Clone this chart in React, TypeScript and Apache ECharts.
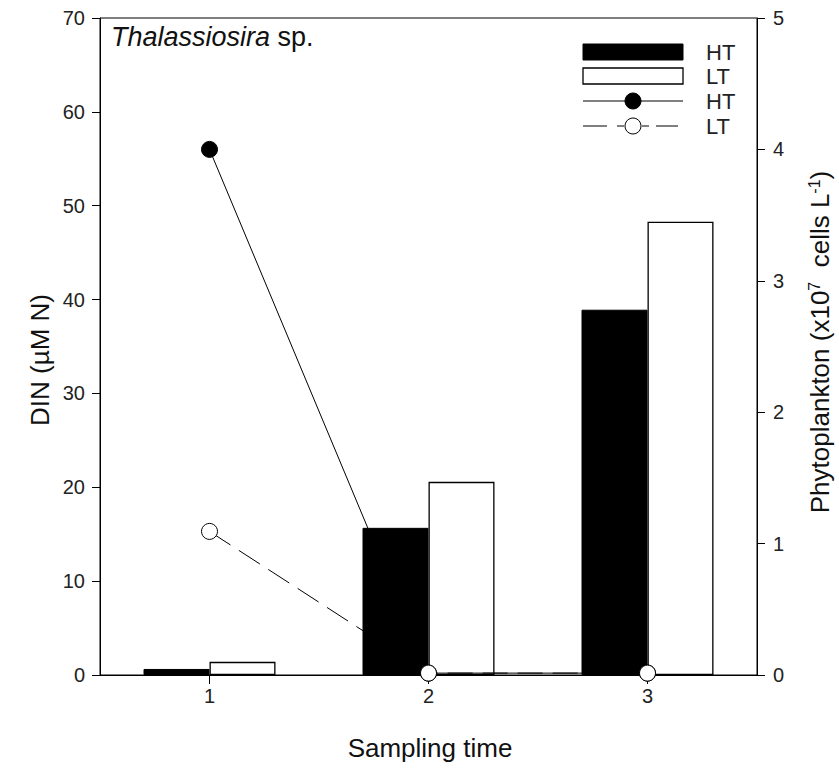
import React, { useEffect, useRef } from "react";
import * as echarts from "echarts";

const categories = ["1", "2", "3"];
// Phytoplankton (x10^7 cells L^-1), right axis
const barHT = [0.046, 1.12, 2.78];
const barLT = [0.1, 1.47, 3.45];
// DIN (µM N), left axis
const lineHT = [56, 0.2, 0.2];
const lineLT = [15.3, 0.2, 0.2];

const FONT = "Liberation Sans, Arial, sans-serif";

export default function App() {
  const ref = useRef<HTMLDivElement>(null);
  useEffect(() => {
    if (!ref.current) return;
    const chart = echarts.init(ref.current, undefined, { renderer: "svg" });
    const axisCommon = {
      axisLine: { show: true, lineStyle: { color: "#000", width: 1 } },
      axisTick: { show: true, inside: false, length: 8, lineStyle: { color: "#000" } },
      splitLine: { show: false },
    };
    const legendText = (t: string, y: number) => ({
      type: "text",
      x: 706,
      y,
      style: { text: t, fontSize: 22, fontFamily: FONT, fill: "#222", verticalAlign: "middle" },
    });
    chart.setOption({
      animation: false,
      backgroundColor: "#fff",
      grid: {
        left: 100,
        right: 82,
        top: 18,
        bottom: 94,
        show: true,
        borderColor: "#000",
        borderWidth: 1,
        backgroundColor: "transparent",
      },
      xAxis: {
        type: "category",
        data: categories,
        boundaryGap: true,
        ...axisCommon,
        axisTick: { show: true, alignWithLabel: true, length: 9, lineStyle: { color: "#000" } },
        axisLabel: { fontSize: 20, color: "#222", margin: 11, fontFamily: FONT },
      },
      yAxis: [
        {
          type: "value",
          position: "left",
          min: 0,
          max: 70,
          interval: 10,
          ...axisCommon,
          axisLabel: { fontSize: 20, color: "#222", margin: 15, fontFamily: FONT },
        },
        {
          type: "value",
          position: "right",
          min: 0,
          max: 5,
          interval: 1,
          ...axisCommon,
          axisLabel: { fontSize: 20, color: "#222", margin: 16, fontFamily: FONT },
        },
      ],
      series: [
        {
          type: "bar",
          name: "HT",
          yAxisIndex: 1,
          data: barHT,
          barWidth: 66,
          barGap: "0%",
          itemStyle: { color: "#000", borderColor: "#000", borderWidth: 1 },
        },
        {
          type: "bar",
          name: "LT",
          yAxisIndex: 1,
          data: barLT,
          barWidth: 66,
          barGap: "0%",
          itemStyle: { color: "#fff", borderColor: "#000", borderWidth: 1.3 },
        },
        {
          type: "line",
          name: "HT",
          yAxisIndex: 0,
          data: lineHT,
          symbol: "circle",
          symbolSize: 16,
          lineStyle: { color: "#000", width: 1 },
          itemStyle: { color: "#000", borderColor: "#000", borderWidth: 1 },
        },
        {
          type: "line",
          name: "LT",
          yAxisIndex: 0,
          data: lineLT,
          symbol: "circle",
          symbolSize: 16,
          lineStyle: { color: "#000", width: 1, type: [25, 10] },
          itemStyle: { color: "#fff", borderColor: "#000", borderWidth: 1 },
        },
      ],
      graphic: [
        {
          type: "text",
          x: 111,
          y: 37,
          style: {
            text: "{i|Thalassiosira} sp.",
            fontSize: 27,
            fontFamily: FONT,
            fill: "#111",
            verticalAlign: "middle",
            rich: { i: { fontStyle: "italic", fontSize: 27, fontFamily: FONT, fill: "#111" } },
          },
        },
        // legend
        { type: "rect", shape: { x: 583, y: 44, width: 100, height: 16 }, style: { fill: "#000", stroke: "#000" } },
        { type: "rect", shape: { x: 583, y: 68, width: 100, height: 16 }, style: { fill: "#fff", stroke: "#000", lineWidth: 1.3 } },
        { type: "line", shape: { x1: 583, y1: 101, x2: 683, y2: 101 }, style: { stroke: "#000", lineWidth: 1 } },
        { type: "circle", shape: { cx: 633, cy: 101, r: 8 }, style: { fill: "#000", stroke: "#000" } },
        { type: "line", shape: { x1: 583, y1: 126, x2: 607, y2: 126 }, style: { stroke: "#000", lineWidth: 1 } },
        { type: "line", shape: { x1: 617, y1: 126, x2: 624, y2: 126 }, style: { stroke: "#000", lineWidth: 1 } },
        { type: "line", shape: { x1: 642, y1: 126, x2: 649, y2: 126 }, style: { stroke: "#000", lineWidth: 1 } },
        { type: "line", shape: { x1: 656, y1: 126, x2: 678, y2: 126 }, style: { stroke: "#000", lineWidth: 1 } },
        { type: "circle", shape: { cx: 633, cy: 126, r: 8 }, style: { fill: "#fff", stroke: "#000" } },
        legendText("HT", 52),
        legendText("LT", 76),
        legendText("HT", 101),
        legendText("LT", 126),
        // axis names
        {
          type: "text",
          x: 40,
          y: 360,
          rotation: Math.PI / 2,
          style: { text: "DIN (µM N)", fontSize: 26, fontFamily: FONT, fill: "#111", align: "center", verticalAlign: "middle" },
        },
        {
          type: "text",
          x: 430,
          y: 748,
          style: { text: "Sampling time", fontSize: 26, fontFamily: FONT, fill: "#111", align: "center", verticalAlign: "middle" },
        },
        {
          type: "text",
          x: 820,
          y: 342,
          rotation: Math.PI / 2,
          style: {
            text: "Phytoplankton (x10{s|7}  cells L{s|-1})",
            fontSize: 26,
            fontFamily: FONT,
            fill: "#111",
            align: "center",
            verticalAlign: "middle",
            rich: {
              s: { fontSize: 16, fontFamily: FONT, fill: "#111", verticalAlign: "top", padding: [0, 0, 12, 0] },
            },
          },
        },
      ],
    });
    return () => chart.dispose();
  }, []);
  return <div ref={ref} style={{ position: "absolute", left: 0, top: 0, width: 839, height: 769 }} />;
}
